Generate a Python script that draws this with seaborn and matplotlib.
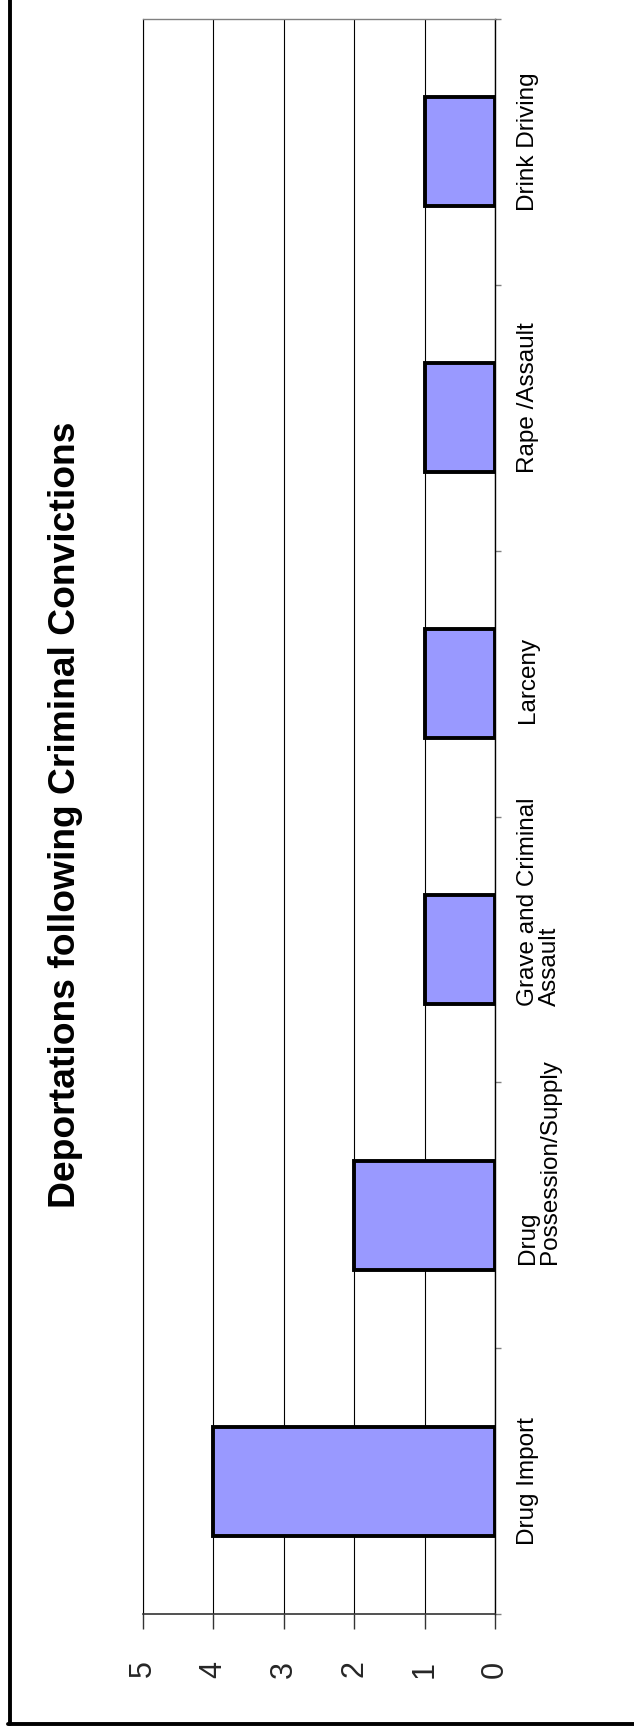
import matplotlib
matplotlib.use('Agg')
import matplotlib.pyplot as plt
import matplotlib.transforms as mtransforms
from matplotlib.lines import Line2D
import numpy as np
import seaborn as sns

categories = ['Drug Import', 'Drug\nPossession/Supply', 'Grave and Criminal\nAssault',
              'Larceny', 'Rape /Assault', 'Drink Driving']
deportations = [4, 2, 1, 1, 1, 1]
value_ticks = [0, 1, 2, 3, 4, 5]
title = 'Deportations following Criminal Convictions'

# how far each label sits above its category centre (pixels)
label_nudge = [0, 54, 48, 4, 20, 10]

sns.set_style('white')
plt.rcParams['font.family'] = ['Liberation Sans', 'DejaVu Sans']

fig = plt.figure(figsize=(6.34, 17.28), dpi=100)
W, H = 634, 1728
ax = fig.add_axes([143 / W, 1 - 1614 / H, (495 - 143) / W, (1614 - 19) / H])

sns.barplot(x=deportations, y=categories, orient='h', ax=ax, color='#9999FF',
            saturation=1, width=0.41, edgecolor='black', linewidth=2.8, zorder=3)

ax.set_xlim(5, 0)
ax.set_ylim(-0.5, len(categories) - 0.5)
ax.set_xlabel('')
ax.set_ylabel('')

ax.set_xticks(value_ticks)
ax.set_xticklabels([str(v) for v in value_ticks])
ax.tick_params(axis='x', bottom=True, direction='out', length=10.5, width=1,
               color='#333333', labelsize=22, labelrotation=90, pad=23)
ax.grid(axis='x', color='black', lw=0.8, zorder=0)
ax.grid(axis='y', visible=False)

ax.yaxis.tick_right()
ax.set_yticks(np.arange(len(categories) + 1) - 0.5)
ax.set_yticklabels([])
ax.tick_params(axis='y', right=True, left=False, direction='out', length=4.5,
               width=1, color='#808080')

ax.spines['left'].set_color('black')
ax.spines['left'].set_linewidth(0.8)
ax.spines['top'].set_color('#808080')
ax.spines['top'].set_linewidth(1)
ax.spines['right'].set_color('black')
ax.spines['right'].set_linewidth(1)
ax.spines['bottom'].set_color('#333333')
ax.spines['bottom'].set_linewidth(1.2)

base = mtransforms.blended_transform_factory(ax.transAxes, ax.transData)
for i, lab in enumerate(categories):
    tr = base + mtransforms.ScaledTranslation(22 / 100, label_nudge[i] / 100, fig.dpi_scale_trans)
    ax.text(1.0, i, lab, transform=tr, rotation=90, ha='left', va='center',
            multialignment='left', fontsize=17.5, linespacing=1.0, color='black')

fig.text(66 / W, 1 - 815 / H, title, rotation=90, ha='center', va='center',
         fontsize=26.8, fontweight='bold', color='black')

# outer chart border (left and bottom edges visible)
fig.add_artist(Line2D([9.5 / W, 9.5 / W], [4.5 / H, 1.01], transform=fig.transFigure,
                      color='black', lw=2.8))
fig.add_artist(Line2D([8 / W, 1.01], [4.5 / H, 4.5 / H], transform=fig.transFigure,
                      color='black', lw=2.8))

fig.savefig('out.png', dpi=100, facecolor='white')
